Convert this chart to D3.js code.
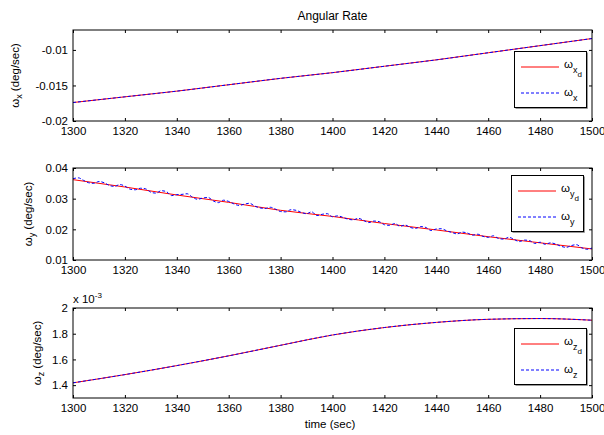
<!DOCTYPE html>
<html>
<head>
<meta charset="utf-8">
<script src="https://cdn.jsdelivr.net/npm/d3@7"></script>
<style>
  body { margin: 0; background: #fff; }
  text { font-family: Arial, "Liberation Sans", Helvetica, sans-serif; font-size: 11.5px; fill: #000; }
</style>
</head>
<body>
<div id="main"></div>
<script>
// sample times
var timeCoarse = [1300, 1320, 1340, 1360, 1380, 1400, 1420, 1440, 1460, 1480, 1500];
var timeFine = d3.range(1300, 1501, 2);
var timeTicks = [1300, 1320, 1340, 1360, 1380, 1400, 1420, 1440, 1460, 1480, 1500];

// omega x (deg/sec)
var wxDesired  = [-0.0174, -0.0166, -0.0158, -0.0149, -0.0140, -0.0132, -0.0123, -0.0114, -0.0104, -0.0094, -0.0084];
var wxMeasured = [-0.0174, -0.0166, -0.0158, -0.0149, -0.0140, -0.0132, -0.0123, -0.0114, -0.0104, -0.0094, -0.0084];
var wxTicks = [-0.02, -0.015, -0.01];

// omega y (deg/sec)
var wyDesired = [0.0362, 0.0338, 0.0312, 0.0288, 0.0262, 0.0242, 0.0219, 0.0198, 0.0176, 0.0156, 0.0136];
var wyMeasured = [
  0.0365, 0.0368, 0.0360, 0.0352, 0.0350, 0.0356, 0.0352, 0.0343, 0.0340, 0.0346, 0.0341,
  0.0331, 0.0329, 0.0334, 0.0332, 0.0321, 0.0318, 0.0326, 0.0323, 0.0310, 0.0313,
  0.0314, 0.0316, 0.0305, 0.0298, 0.0302, 0.0304, 0.0293, 0.0287, 0.0295, 0.0291,
  0.0283, 0.0278, 0.0282, 0.0285, 0.0276, 0.0270, 0.0268, 0.0272, 0.0266, 0.0258,
  0.0257, 0.0264, 0.0262, 0.0255, 0.0251, 0.0257, 0.0245, 0.0249, 0.0251, 0.0241,
  0.0244, 0.0239, 0.0233, 0.0231, 0.0236, 0.0229, 0.0222, 0.0227, 0.0225, 0.0215,
  0.0213, 0.0219, 0.0210, 0.0214, 0.0206, 0.0203, 0.0209, 0.0206, 0.0196, 0.0201,
  0.0202, 0.0195, 0.0190, 0.0185, 0.0191, 0.0188, 0.0181, 0.0184, 0.0177, 0.0174,
  0.0179, 0.0170, 0.0168, 0.0174, 0.0167, 0.0160, 0.0165, 0.0163, 0.0154, 0.0158,
  0.0151, 0.0156, 0.0152, 0.0145, 0.0141, 0.0147, 0.0150, 0.0140, 0.0135, 0.0139
];
var wyTicks = [0.01, 0.02, 0.03, 0.04];

// omega z (x 1e-3 deg/sec)
var wzDesired  = [1.418, 1.482, 1.552, 1.628, 1.710, 1.790, 1.848, 1.888, 1.912, 1.918, 1.905];
var wzMeasured = [1.418, 1.482, 1.552, 1.628, 1.710, 1.790, 1.848, 1.888, 1.912, 1.918, 1.905];
var wzTicks = [1.4, 1.6, 1.8, 2];

var width = 604, height = 435;
var left = 73, right = 592;

var svg = d3.select("#main").append("svg")
    .attr("width", width)
    .attr("height", height);

var x = d3.scaleLinear().domain([1300, 1500]).range([left, right]);

var panels = [
  { top: 30, bottom: 121, domain: [-0.02, -0.0072], ticks: wxTicks, axis: "x",
    des: wxDesired, desT: timeCoarse, meas: wxMeasured, measT: timeCoarse, fmt: 3,
    labelX: 15, legend: [514, 51] },
  { top: 168, bottom: 260, domain: [0.01, 0.04], ticks: wyTicks, axis: "y",
    des: wyDesired, desT: timeCoarse, meas: wyMeasured, measT: timeFine, fmt: 2,
    labelX: 28, legend: [511, 175] },
  { top: 308, bottom: 398, domain: [1.3, 2.0], ticks: wzTicks, axis: "z",
    des: wzDesired, desT: timeCoarse, meas: wzMeasured, measT: timeCoarse, fmt: 1,
    labelX: 37, legend: [514, 328] }
];

panels.forEach(function(p, i) {
  var y = d3.scaleLinear().domain(p.domain).range([p.bottom, p.top]);
  var g = svg.append("g");

  var fmt = function(d) { return String(+d.toFixed(p.fmt)); };

  // bottom / left with labels, ticks pointing inward
  g.append("g")
      .attr("transform", "translate(0," + p.bottom + ")")
      .call(d3.axisBottom(x).tickValues(timeTicks).tickSize(-3).tickPadding(6).tickFormat(d3.format("d")));
  g.append("g")
      .attr("transform", "translate(" + left + ",0)")
      .call(d3.axisLeft(y).tickValues(p.ticks).tickSize(-3).tickPadding(5).tickFormat(fmt));
  g.append("g")
      .attr("transform", "translate(0," + p.top + ")")
      .call(d3.axisTop(x).tickValues(timeTicks).tickSize(-3).tickFormat(""));
  g.append("g")
      .attr("transform", "translate(" + right + ",0)")
      .call(d3.axisRight(y).tickValues(p.ticks).tickSize(-3).tickFormat(""));

  g.selectAll(".domain").remove();
  g.selectAll(".tick line").attr("stroke", "#000");
  g.selectAll(".tick text").style("font-size", "11.5px").attr("fill", "#000");

  var clipId = "clip" + i;
  svg.append("clipPath").attr("id", clipId)
    .append("rect")
      .attr("x", left).attr("y", p.top)
      .attr("width", right - left).attr("height", p.bottom - p.top);

  var line = d3.line()
      .x(function(d) { return x(d[0]); })
      .y(function(d) { return y(d[1]); })
      .curve(d3.curveMonotoneX);

  g.append("path")
      .datum(d3.zip(p.desT, p.des))
      .attr("clip-path", "url(#" + clipId + ")")
      .attr("fill", "none")
      .attr("stroke", "#ff0000")
      .attr("stroke-width", 1)
      .attr("d", line);

  g.append("path")
      .datum(d3.zip(p.measT, p.meas))
      .attr("clip-path", "url(#" + clipId + ")")
      .attr("fill", "none")
      .attr("stroke", "#0000ff")
      .attr("stroke-width", 1)
      .attr("stroke-dasharray", "3,2")
      .attr("d", line);

  // axes box
  g.append("rect")
      .attr("x", left).attr("y", p.top)
      .attr("width", right - left).attr("height", p.bottom - p.top)
      .attr("fill", "none")
      .attr("stroke", "#000");

  // y label
  var lab = g.append("text")
      .attr("transform", "translate(" + p.labelX + "," + ((p.top + p.bottom) / 2) + ") rotate(-90)")
      .attr("text-anchor", "middle")
      .attr("dy", "0.35em");
  lab.append("tspan").text("ω");
  lab.append("tspan").attr("dy", 3).style("font-size", "9px").text(p.axis);
  lab.append("tspan").attr("dy", -3).text(" (deg/sec)");

  // legend
  var lx = p.legend[0], ly = p.legend[1];
  var lg = g.append("g").attr("transform", "translate(" + lx + "," + ly + ")");
  lg.append("rect")
      .attr("x", 0.5).attr("y", 0.5)
      .attr("width", 72).attr("height", 56)
      .attr("fill", "#fff")
      .attr("stroke", "#000");
  // faint shadow edges on right and bottom
  lg.append("path")
      .attr("d", "M73.5,1.5V57.5H1.5")
      .attr("fill", "none")
      .attr("stroke", "#999");
  lg.append("line")
      .attr("x1", 7).attr("x2", 45).attr("y1", 16).attr("y2", 16)
      .attr("stroke", "#ff0000");
  lg.append("line")
      .attr("x1", 7).attr("x2", 45).attr("y1", 42).attr("y2", 42)
      .attr("stroke", "#0000ff")
      .attr("stroke-dasharray", "3,2");
  var t1 = lg.append("text").attr("x", 50).attr("y", 17);
  t1.append("tspan").text("ω");
  t1.append("tspan").attr("dy", 5).style("font-size", "9px").text(p.axis);
  t1.append("tspan").attr("dy", 4).style("font-size", "8px").text("d");
  var t2 = lg.append("text").attr("x", 50).attr("y", 45);
  t2.append("tspan").text("ω");
  t2.append("tspan").attr("dy", 5).style("font-size", "9px").text(p.axis);
});

// title
svg.append("text")
    .attr("x", (left + right) / 2)
    .attr("y", 20)
    .attr("text-anchor", "middle")
    .style("font-size", "12px")
    .text("Angular Rate");

// x label
svg.append("text")
    .attr("x", 330)
    .attr("y", 428)
    .attr("text-anchor", "middle")
    .text("time (sec)");

// exponent on third panel
var ex = svg.append("text").attr("x", 73).attr("y", 303);
ex.append("tspan").text("x 10");
ex.append("tspan").attr("dy", -5).style("font-size", "8px").text("-3");
</script>
</body>
</html>
